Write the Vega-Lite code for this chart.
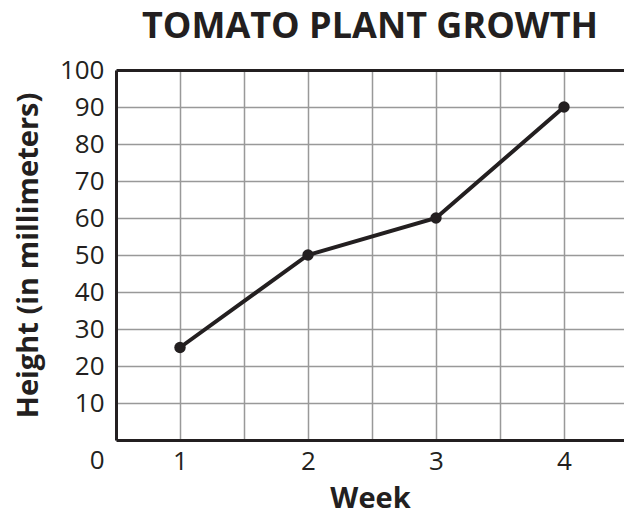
{
  "$schema": "https://vega.github.io/schema/vega-lite/v6.json",
  "autosize": {"type": "none"},
  "width": 508,
  "height": 370,
  "padding": {"left": 116, "top": 70, "right": 0, "bottom": 85},
  "background": "white",
  "config": {
    "view": {"stroke": null},
    "font": "Open Sans"
  },
  "title": {
    "text": "TOMATO PLANT GROWTH",
    "fontSize": 36,
    "fontWeight": "bold",
    "font": "Open Sans",
    "color": "#231f20",
    "offset": 11
  },
  "data": {
    "values": [
      {"week": 1, "height": 25},
      {"week": 2, "height": 50},
      {"week": 3, "height": 60},
      {"week": 4, "height": 90}
    ]
  },
  "encoding": {
    "x": {
      "field": "week", "type": "quantitative",
      "scale": {"domain": [0.5, 4.46875], "nice": false, "zero": false},
      "axis": {
        "values": [0.5, 1, 1.5, 2, 2.5, 3, 3.5, 4],
        "labelExpr": "datum.value % 1 == 0 ? format(datum.value, 'd') : ''",
        "labelOverlap": false,
        "ticks": false,
        "grid": true,
        "gridColor": "#999999",
        "gridWidth": 1.5,
        "domainColor": "#231f20",
        "domainWidth": 3,
        "labelFontSize": 26,
        "labelColor": "#231f20",
        "labelPadding": 8,
        "labelFlush": false,
        "title": "Week",
        "titleFontSize": 29,
        "titleFontWeight": "bold",
        "titleColor": "#231f20",
        "titlePadding": 10
      }
    },
    "y": {
      "field": "height", "type": "quantitative",
      "scale": {"domain": [0, 100], "nice": false},
      "axis": {
        "values": [0, 10, 20, 30, 40, 50, 60, 70, 80, 90, 100],
        "labelOverlap": false,
        "ticks": false,
        "grid": true,
        "gridColor": {"condition": {"test": "datum.value == 100", "value": "#231f20"}, "value": "#999999"},
        "gridWidth": {"condition": {"test": "datum.value == 100", "value": 3}, "value": 1.5},
        "gridOpacity": {"condition": {"test": "datum.value == 0", "value": 0}, "value": 1},
        "domainColor": "#231f20",
        "domainWidth": 3,
        "labelFontSize": 26,
        "labelColor": "#231f20",
        "labelPadding": 12,
        "labelFlush": false,
        "labelBound": false,
        "labelOffset": {"condition": {"test": "datum.value == 0", "value": 20}, "value": 0},
        "title": "Height (in millimeters)",
        "titleFontSize": 29,
        "titleFontWeight": "bold",
        "titleColor": "#231f20",
        "titlePadding": 16
      }
    }
  },
  "layer": [
    {
      "mark": {"type": "line", "color": "#231f20", "strokeWidth": 4}
    },
    {
      "mark": {"type": "point", "filled": true, "color": "#231f20", "size": 130, "opacity": 1}
    }
  ]
}
